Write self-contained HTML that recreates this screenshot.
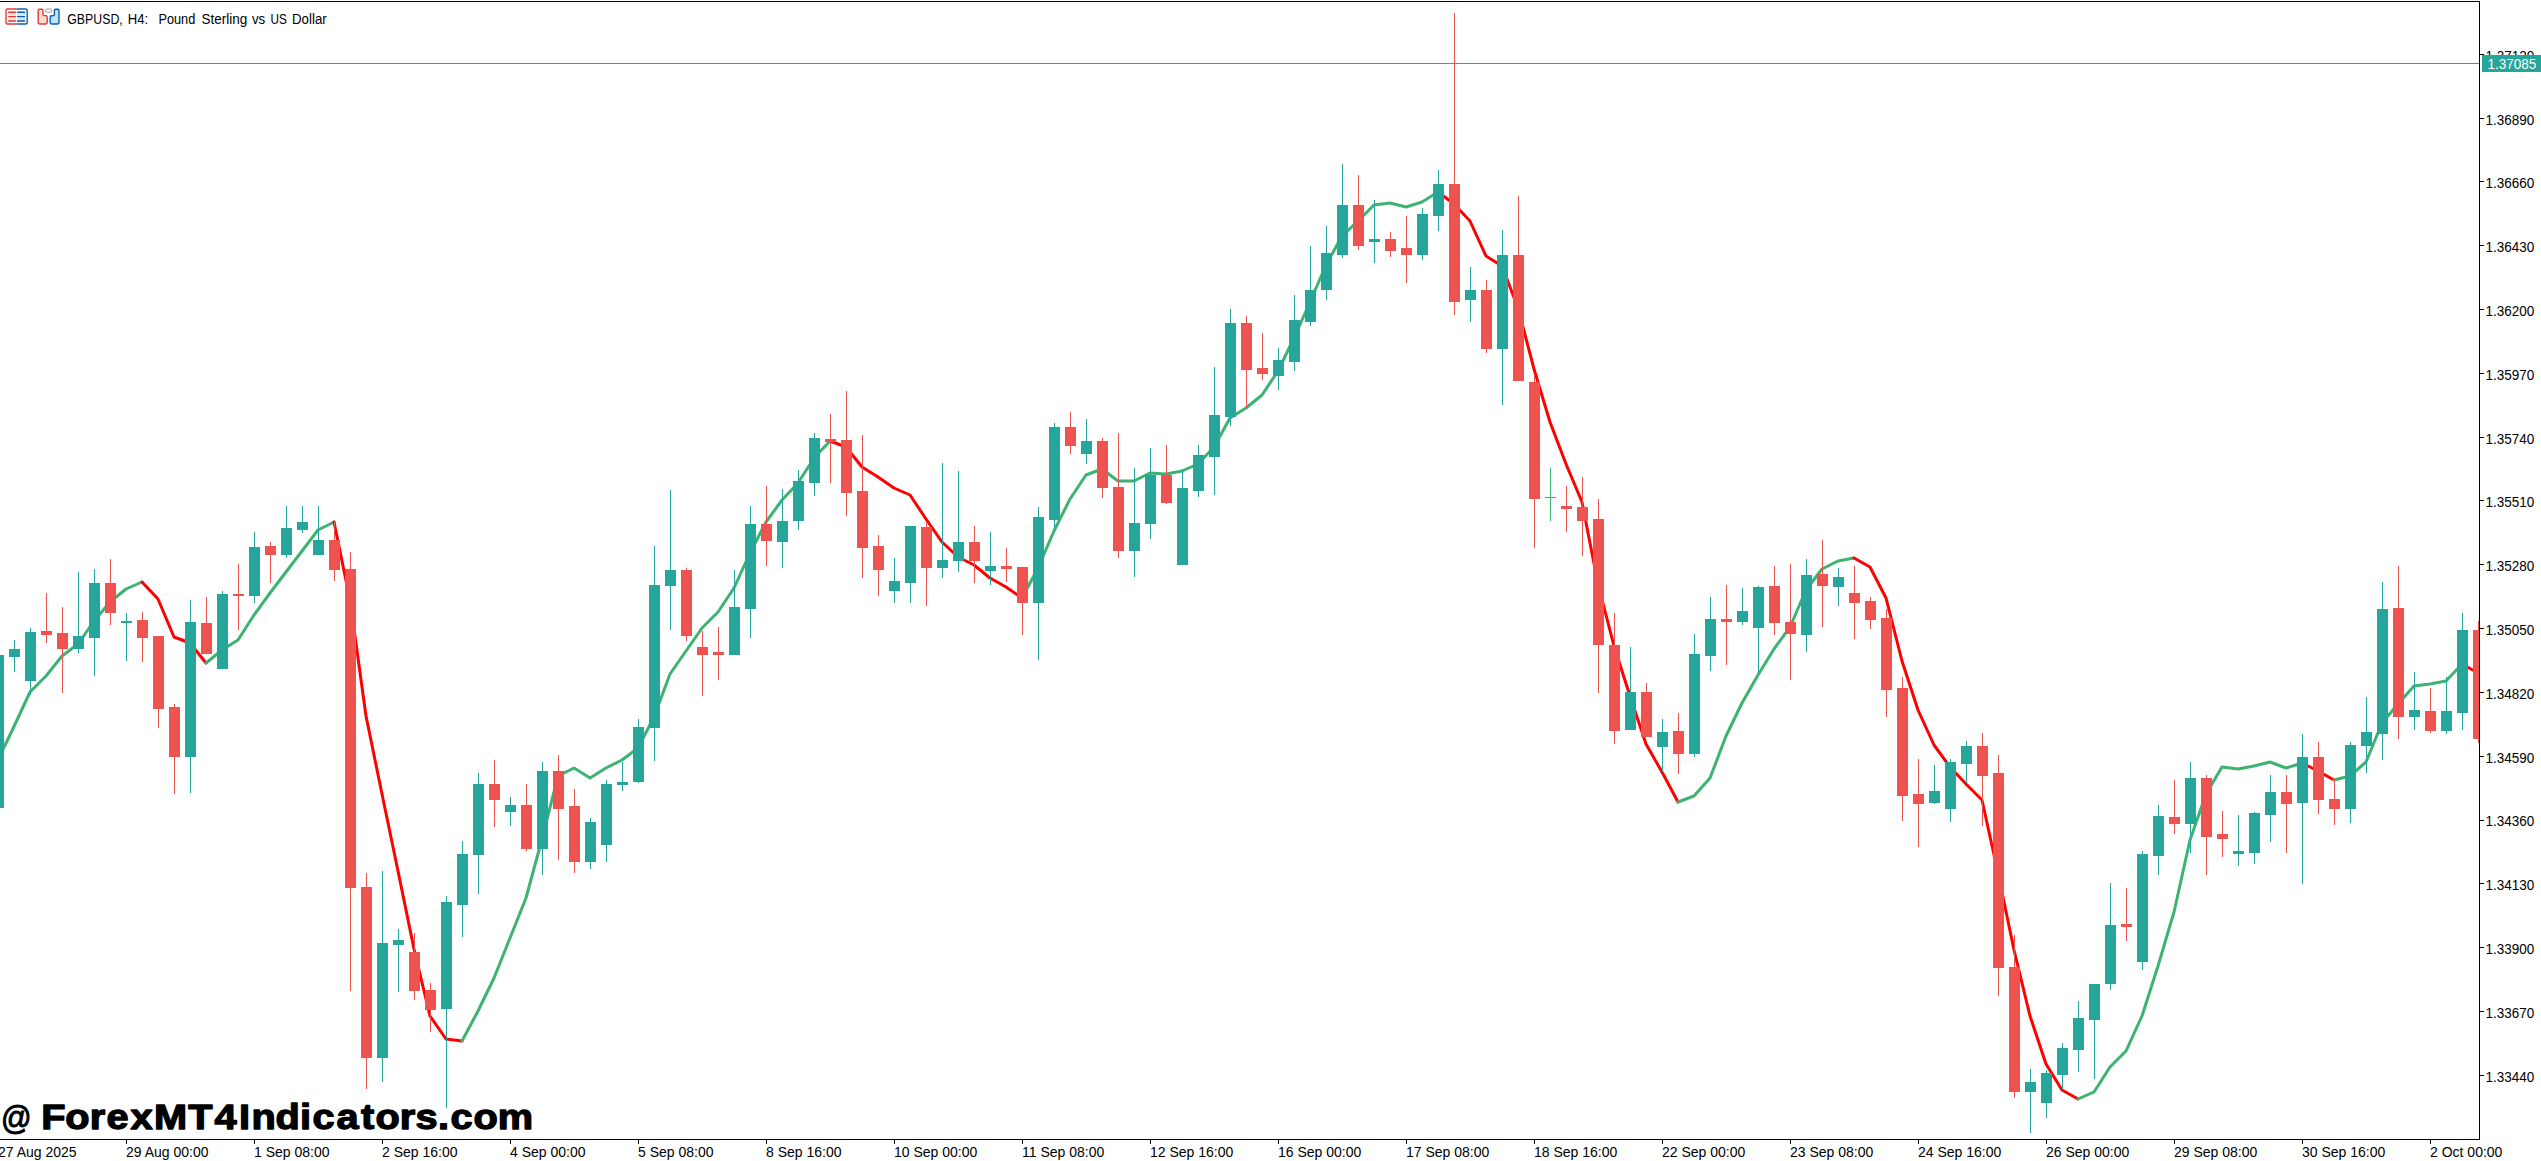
<!DOCTYPE html>
<html><head><meta charset="utf-8"><title>GBPUSD, H4</title>
<style>
html,body{margin:0;padding:0;background:#fff;}
body{width:2541px;height:1161px;overflow:hidden;position:relative;font-family:"Liberation Sans",sans-serif;}
svg{position:absolute;left:0;top:0;display:block}
text{font-family:"Liberation Sans",sans-serif;}
.ax{font-size:14px;fill:#000}
.wm{font-family:"Liberation Sans",sans-serif;font-weight:bold;font-size:35.5px;fill:#000;stroke:#000;stroke-width:1.3px;stroke-linejoin:round}
.wa{font-family:"Liberation Sans",sans-serif;font-weight:normal;font-size:33.5px;fill:#000;stroke:#000;stroke-width:1px}
</style></head><body>
<svg width="2541" height="1161" viewBox="0 0 2541 1161">
<rect width="2541" height="1161" fill="#fff"/>
<defs><clipPath id="plot"><rect x="0" y="2" width="2479" height="1137"/></clipPath></defs>

<g shape-rendering="crispEdges">
<rect x="0" y="63" width="2479" height="1" fill="#26a69a"/>
</g>
<g clip-path="url(#plot)" fill="none" stroke-width="3" stroke-linejoin="round" stroke-linecap="round">
<polyline points="-2,760 14,726.5 30,692 46,676 62,656 78,644 94,621 110,602 126,589 142,582" stroke="#3cb371"/>
<polyline points="142,582 158,599 174,637 190,643 206,663" stroke="#ff0000"/>
<polyline points="206,663 222,650 238,640 254,615 270,593 286,572 302,551 318,530 334,522" stroke="#3cb371"/>
<polyline points="334,522 350,600 366,716 382,794 398,871 414,949 430,1016 446,1039 462,1041" stroke="#ff0000"/>
<polyline points="462,1041 478,1011 494,978 510,938 526,898 542,839 558,776 574,768 590,778 606,768 622,760 638,748 654,717 670,674 686,651 702,628 718,612 734,588 750,553 766,522 782,500 798,483 814,458 830,441" stroke="#3cb371"/>
<polyline points="830,441 846,447 862,467 878,477 894,488 910,495 926,519 942,542 958,557 974,565 990,578 1006,587 1022,598" stroke="#ff0000"/>
<polyline points="1022,598 1038,568 1054,531 1070,499 1086,475 1102,469 1118,481 1134,481 1150,473 1166,474 1182,471 1198,464 1214,447 1230,418 1246,408 1262,395 1278,371 1294,338 1310,302 1326,265 1342,236 1358,221 1374,205 1390,203 1406,207 1422,202 1438,192" stroke="#3cb371"/>
<polyline points="1438,192 1454,204 1470,221 1486,256 1502,266 1518,308 1534,369 1550,422 1566,464 1582,502 1598,584 1614,646 1630,696 1646,744 1662,772 1678,802" stroke="#ff0000"/>
<polyline points="1678,802 1694,796 1710,778 1726,736 1742,703 1758,675 1774,649 1790,627 1806,590 1822,569 1838,561 1854,558" stroke="#3cb371"/>
<polyline points="1854,558 1870,567 1886,598 1902,661 1918,710 1934,745 1950,767 1966,784 1982,800 1998,873 2014,950 2030,1016 2046,1064 2062,1090 2078,1099" stroke="#ff0000"/>
<polyline points="2078,1099 2094,1092 2110,1067 2126,1051 2142,1016 2158,966 2174,912 2190,840 2206,794 2222,767 2238,769 2254,766 2270,762 2286,768 2302,763" stroke="#3cb371"/>
<polyline points="2302,763 2318,771 2334,780" stroke="#ff0000"/>
<polyline points="2334,780 2350,776 2366,762 2382,723 2398,704 2414,686 2430,684 2446,681 2462,664" stroke="#3cb371"/>
<polyline points="2462,664 2478,673" stroke="#ff0000"/>
</g>
<g clip-path="url(#plot)" shape-rendering="crispEdges">
<rect x="-2" y="655" width="1" height="153" fill="#26a69a"/>
<rect x="-7" y="655" width="11" height="153" fill="#26a69a"/>
<rect x="14" y="640" width="1" height="32" fill="#26a69a"/>
<rect x="9" y="649" width="11" height="8" fill="#26a69a"/>
<rect x="30" y="628" width="1" height="67" fill="#26a69a"/>
<rect x="25" y="632" width="11" height="49" fill="#26a69a"/>
<rect x="46" y="593" width="1" height="50" fill="#ef5350"/>
<rect x="41" y="631" width="11" height="4" fill="#ef5350"/>
<rect x="62" y="607" width="1" height="86" fill="#ef5350"/>
<rect x="57" y="633" width="11" height="16" fill="#ef5350"/>
<rect x="78" y="572" width="1" height="81" fill="#26a69a"/>
<rect x="73" y="636" width="11" height="13" fill="#26a69a"/>
<rect x="94" y="569" width="1" height="107" fill="#26a69a"/>
<rect x="89" y="583" width="11" height="55" fill="#26a69a"/>
<rect x="110" y="559" width="1" height="66" fill="#ef5350"/>
<rect x="105" y="583" width="11" height="30" fill="#ef5350"/>
<rect x="126" y="613" width="1" height="48" fill="#26a69a"/>
<rect x="121" y="621" width="11" height="2" fill="#26a69a"/>
<rect x="142" y="612" width="1" height="50" fill="#ef5350"/>
<rect x="137" y="620" width="11" height="18" fill="#ef5350"/>
<rect x="158" y="636" width="1" height="92" fill="#ef5350"/>
<rect x="153" y="636" width="11" height="73" fill="#ef5350"/>
<rect x="174" y="704" width="1" height="90" fill="#ef5350"/>
<rect x="169" y="707" width="11" height="50" fill="#ef5350"/>
<rect x="190" y="600" width="1" height="193" fill="#26a69a"/>
<rect x="185" y="622" width="11" height="135" fill="#26a69a"/>
<rect x="206" y="597" width="1" height="57" fill="#ef5350"/>
<rect x="201" y="623" width="11" height="31" fill="#ef5350"/>
<rect x="222" y="591" width="1" height="78" fill="#26a69a"/>
<rect x="217" y="594" width="11" height="75" fill="#26a69a"/>
<rect x="238" y="564" width="1" height="66" fill="#ef5350"/>
<rect x="233" y="594" width="11" height="2" fill="#ef5350"/>
<rect x="254" y="532" width="1" height="71" fill="#26a69a"/>
<rect x="249" y="547" width="11" height="49" fill="#26a69a"/>
<rect x="270" y="542" width="1" height="41" fill="#ef5350"/>
<rect x="265" y="546" width="11" height="9" fill="#ef5350"/>
<rect x="286" y="506" width="1" height="52" fill="#26a69a"/>
<rect x="281" y="528" width="11" height="27" fill="#26a69a"/>
<rect x="302" y="506" width="1" height="27" fill="#26a69a"/>
<rect x="297" y="522" width="11" height="8" fill="#26a69a"/>
<rect x="318" y="506" width="1" height="49" fill="#26a69a"/>
<rect x="313" y="540" width="11" height="15" fill="#26a69a"/>
<rect x="334" y="522" width="1" height="59" fill="#ef5350"/>
<rect x="329" y="540" width="11" height="30" fill="#ef5350"/>
<rect x="350" y="552" width="1" height="439" fill="#ef5350"/>
<rect x="345" y="569" width="11" height="319" fill="#ef5350"/>
<rect x="366" y="873" width="1" height="216" fill="#ef5350"/>
<rect x="361" y="887" width="11" height="171" fill="#ef5350"/>
<rect x="382" y="871" width="1" height="211" fill="#26a69a"/>
<rect x="377" y="943" width="11" height="115" fill="#26a69a"/>
<rect x="398" y="929" width="1" height="63" fill="#26a69a"/>
<rect x="393" y="940" width="11" height="5" fill="#26a69a"/>
<rect x="414" y="933" width="1" height="67" fill="#ef5350"/>
<rect x="409" y="952" width="11" height="39" fill="#ef5350"/>
<rect x="430" y="983" width="1" height="49" fill="#ef5350"/>
<rect x="425" y="990" width="11" height="20" fill="#ef5350"/>
<rect x="446" y="896" width="1" height="212" fill="#26a69a"/>
<rect x="441" y="902" width="11" height="107" fill="#26a69a"/>
<rect x="462" y="841" width="1" height="96" fill="#26a69a"/>
<rect x="457" y="854" width="11" height="51" fill="#26a69a"/>
<rect x="478" y="773" width="1" height="121" fill="#26a69a"/>
<rect x="473" y="784" width="11" height="71" fill="#26a69a"/>
<rect x="494" y="760" width="1" height="67" fill="#ef5350"/>
<rect x="489" y="784" width="11" height="16" fill="#ef5350"/>
<rect x="510" y="797" width="1" height="29" fill="#26a69a"/>
<rect x="505" y="805" width="11" height="7" fill="#26a69a"/>
<rect x="526" y="784" width="1" height="67" fill="#ef5350"/>
<rect x="521" y="805" width="11" height="44" fill="#ef5350"/>
<rect x="542" y="762" width="1" height="113" fill="#26a69a"/>
<rect x="537" y="771" width="11" height="78" fill="#26a69a"/>
<rect x="558" y="755" width="1" height="105" fill="#ef5350"/>
<rect x="553" y="771" width="11" height="38" fill="#ef5350"/>
<rect x="574" y="789" width="1" height="84" fill="#ef5350"/>
<rect x="569" y="806" width="11" height="56" fill="#ef5350"/>
<rect x="590" y="818" width="1" height="51" fill="#26a69a"/>
<rect x="585" y="822" width="11" height="40" fill="#26a69a"/>
<rect x="606" y="780" width="1" height="82" fill="#26a69a"/>
<rect x="601" y="784" width="11" height="61" fill="#26a69a"/>
<rect x="622" y="762" width="1" height="29" fill="#26a69a"/>
<rect x="617" y="782" width="11" height="3" fill="#26a69a"/>
<rect x="638" y="719" width="1" height="64" fill="#26a69a"/>
<rect x="633" y="727" width="11" height="55" fill="#26a69a"/>
<rect x="654" y="546" width="1" height="215" fill="#26a69a"/>
<rect x="649" y="585" width="11" height="143" fill="#26a69a"/>
<rect x="670" y="490" width="1" height="140" fill="#26a69a"/>
<rect x="665" y="570" width="11" height="16" fill="#26a69a"/>
<rect x="686" y="568" width="1" height="73" fill="#ef5350"/>
<rect x="681" y="570" width="11" height="66" fill="#ef5350"/>
<rect x="702" y="631" width="1" height="65" fill="#ef5350"/>
<rect x="697" y="647" width="11" height="8" fill="#ef5350"/>
<rect x="718" y="627" width="1" height="53" fill="#ef5350"/>
<rect x="713" y="652" width="11" height="3" fill="#ef5350"/>
<rect x="734" y="570" width="1" height="85" fill="#26a69a"/>
<rect x="729" y="607" width="11" height="48" fill="#26a69a"/>
<rect x="750" y="506" width="1" height="132" fill="#26a69a"/>
<rect x="745" y="524" width="11" height="85" fill="#26a69a"/>
<rect x="766" y="486" width="1" height="80" fill="#ef5350"/>
<rect x="761" y="524" width="11" height="17" fill="#ef5350"/>
<rect x="782" y="489" width="1" height="79" fill="#26a69a"/>
<rect x="777" y="521" width="11" height="21" fill="#26a69a"/>
<rect x="798" y="470" width="1" height="60" fill="#26a69a"/>
<rect x="793" y="481" width="11" height="40" fill="#26a69a"/>
<rect x="814" y="433" width="1" height="63" fill="#26a69a"/>
<rect x="809" y="438" width="11" height="45" fill="#26a69a"/>
<rect x="830" y="414" width="1" height="69" fill="#ef5350"/>
<rect x="825" y="439" width="11" height="3" fill="#ef5350"/>
<rect x="846" y="391" width="1" height="125" fill="#ef5350"/>
<rect x="841" y="440" width="11" height="53" fill="#ef5350"/>
<rect x="862" y="435" width="1" height="143" fill="#ef5350"/>
<rect x="857" y="491" width="11" height="57" fill="#ef5350"/>
<rect x="878" y="535" width="1" height="61" fill="#ef5350"/>
<rect x="873" y="546" width="11" height="24" fill="#ef5350"/>
<rect x="894" y="558" width="1" height="45" fill="#26a69a"/>
<rect x="889" y="581" width="11" height="10" fill="#26a69a"/>
<rect x="910" y="526" width="1" height="77" fill="#26a69a"/>
<rect x="905" y="526" width="11" height="57" fill="#26a69a"/>
<rect x="926" y="522" width="1" height="84" fill="#ef5350"/>
<rect x="921" y="527" width="11" height="41" fill="#ef5350"/>
<rect x="942" y="463" width="1" height="115" fill="#26a69a"/>
<rect x="937" y="560" width="11" height="8" fill="#26a69a"/>
<rect x="958" y="471" width="1" height="101" fill="#26a69a"/>
<rect x="953" y="542" width="11" height="19" fill="#26a69a"/>
<rect x="974" y="526" width="1" height="57" fill="#ef5350"/>
<rect x="969" y="542" width="11" height="19" fill="#ef5350"/>
<rect x="990" y="532" width="1" height="53" fill="#26a69a"/>
<rect x="985" y="566" width="11" height="5" fill="#26a69a"/>
<rect x="1006" y="548" width="1" height="34" fill="#ef5350"/>
<rect x="1001" y="566" width="11" height="3" fill="#ef5350"/>
<rect x="1022" y="567" width="1" height="68" fill="#ef5350"/>
<rect x="1017" y="567" width="11" height="36" fill="#ef5350"/>
<rect x="1038" y="507" width="1" height="153" fill="#26a69a"/>
<rect x="1033" y="517" width="11" height="86" fill="#26a69a"/>
<rect x="1054" y="423" width="1" height="107" fill="#26a69a"/>
<rect x="1049" y="427" width="11" height="93" fill="#26a69a"/>
<rect x="1070" y="412" width="1" height="42" fill="#ef5350"/>
<rect x="1065" y="427" width="11" height="19" fill="#ef5350"/>
<rect x="1086" y="419" width="1" height="45" fill="#26a69a"/>
<rect x="1081" y="441" width="11" height="13" fill="#26a69a"/>
<rect x="1102" y="438" width="1" height="60" fill="#ef5350"/>
<rect x="1097" y="441" width="11" height="47" fill="#ef5350"/>
<rect x="1118" y="433" width="1" height="125" fill="#ef5350"/>
<rect x="1113" y="487" width="11" height="64" fill="#ef5350"/>
<rect x="1134" y="468" width="1" height="109" fill="#26a69a"/>
<rect x="1129" y="523" width="11" height="28" fill="#26a69a"/>
<rect x="1150" y="448" width="1" height="91" fill="#26a69a"/>
<rect x="1145" y="475" width="11" height="49" fill="#26a69a"/>
<rect x="1166" y="445" width="1" height="59" fill="#ef5350"/>
<rect x="1161" y="475" width="11" height="28" fill="#ef5350"/>
<rect x="1182" y="469" width="1" height="96" fill="#26a69a"/>
<rect x="1177" y="488" width="11" height="77" fill="#26a69a"/>
<rect x="1198" y="445" width="1" height="52" fill="#26a69a"/>
<rect x="1193" y="455" width="11" height="36" fill="#26a69a"/>
<rect x="1214" y="367" width="1" height="128" fill="#26a69a"/>
<rect x="1209" y="415" width="11" height="42" fill="#26a69a"/>
<rect x="1230" y="309" width="1" height="117" fill="#26a69a"/>
<rect x="1225" y="323" width="11" height="94" fill="#26a69a"/>
<rect x="1246" y="316" width="1" height="92" fill="#ef5350"/>
<rect x="1241" y="323" width="11" height="47" fill="#ef5350"/>
<rect x="1262" y="333" width="1" height="47" fill="#ef5350"/>
<rect x="1257" y="368" width="11" height="6" fill="#ef5350"/>
<rect x="1278" y="348" width="1" height="42" fill="#26a69a"/>
<rect x="1273" y="360" width="11" height="16" fill="#26a69a"/>
<rect x="1294" y="295" width="1" height="76" fill="#26a69a"/>
<rect x="1289" y="320" width="11" height="42" fill="#26a69a"/>
<rect x="1310" y="246" width="1" height="80" fill="#26a69a"/>
<rect x="1305" y="290" width="11" height="32" fill="#26a69a"/>
<rect x="1326" y="226" width="1" height="74" fill="#26a69a"/>
<rect x="1321" y="253" width="11" height="37" fill="#26a69a"/>
<rect x="1342" y="164" width="1" height="94" fill="#26a69a"/>
<rect x="1337" y="205" width="11" height="50" fill="#26a69a"/>
<rect x="1358" y="175" width="1" height="75" fill="#ef5350"/>
<rect x="1353" y="205" width="11" height="41" fill="#ef5350"/>
<rect x="1374" y="200" width="1" height="63" fill="#26a69a"/>
<rect x="1369" y="239" width="11" height="3" fill="#26a69a"/>
<rect x="1390" y="232" width="1" height="25" fill="#ef5350"/>
<rect x="1385" y="239" width="11" height="12" fill="#ef5350"/>
<rect x="1406" y="216" width="1" height="67" fill="#ef5350"/>
<rect x="1401" y="248" width="11" height="7" fill="#ef5350"/>
<rect x="1422" y="208" width="1" height="52" fill="#26a69a"/>
<rect x="1417" y="214" width="11" height="41" fill="#26a69a"/>
<rect x="1438" y="170" width="1" height="61" fill="#26a69a"/>
<rect x="1433" y="184" width="11" height="32" fill="#26a69a"/>
<rect x="1454" y="13" width="1" height="302" fill="#ef5350"/>
<rect x="1449" y="184" width="11" height="118" fill="#ef5350"/>
<rect x="1470" y="267" width="1" height="55" fill="#26a69a"/>
<rect x="1465" y="290" width="11" height="10" fill="#26a69a"/>
<rect x="1486" y="280" width="1" height="73" fill="#ef5350"/>
<rect x="1481" y="290" width="11" height="59" fill="#ef5350"/>
<rect x="1502" y="230" width="1" height="175" fill="#26a69a"/>
<rect x="1497" y="255" width="11" height="94" fill="#26a69a"/>
<rect x="1518" y="196" width="1" height="185" fill="#ef5350"/>
<rect x="1513" y="255" width="11" height="126" fill="#ef5350"/>
<rect x="1534" y="376" width="1" height="172" fill="#ef5350"/>
<rect x="1529" y="382" width="11" height="117" fill="#ef5350"/>
<rect x="1550" y="468" width="1" height="53" fill="#3cb371"/>
<rect x="1545" y="497" width="11" height="1" fill="#3cb371"/>
<rect x="1566" y="486" width="1" height="46" fill="#ef5350"/>
<rect x="1561" y="506" width="11" height="3" fill="#ef5350"/>
<rect x="1582" y="477" width="1" height="79" fill="#ef5350"/>
<rect x="1577" y="507" width="11" height="14" fill="#ef5350"/>
<rect x="1598" y="499" width="1" height="194" fill="#ef5350"/>
<rect x="1593" y="519" width="11" height="126" fill="#ef5350"/>
<rect x="1614" y="613" width="1" height="131" fill="#ef5350"/>
<rect x="1609" y="645" width="11" height="86" fill="#ef5350"/>
<rect x="1630" y="647" width="1" height="83" fill="#26a69a"/>
<rect x="1625" y="692" width="11" height="38" fill="#26a69a"/>
<rect x="1646" y="683" width="1" height="54" fill="#ef5350"/>
<rect x="1641" y="692" width="11" height="45" fill="#ef5350"/>
<rect x="1662" y="719" width="1" height="53" fill="#26a69a"/>
<rect x="1657" y="732" width="11" height="15" fill="#26a69a"/>
<rect x="1678" y="713" width="1" height="61" fill="#ef5350"/>
<rect x="1673" y="731" width="11" height="23" fill="#ef5350"/>
<rect x="1694" y="634" width="1" height="123" fill="#26a69a"/>
<rect x="1689" y="654" width="11" height="100" fill="#26a69a"/>
<rect x="1710" y="597" width="1" height="74" fill="#26a69a"/>
<rect x="1705" y="619" width="11" height="37" fill="#26a69a"/>
<rect x="1726" y="585" width="1" height="80" fill="#ef5350"/>
<rect x="1721" y="619" width="11" height="3" fill="#ef5350"/>
<rect x="1742" y="588" width="1" height="37" fill="#26a69a"/>
<rect x="1737" y="611" width="11" height="11" fill="#26a69a"/>
<rect x="1758" y="586" width="1" height="88" fill="#26a69a"/>
<rect x="1753" y="587" width="11" height="41" fill="#26a69a"/>
<rect x="1774" y="566" width="1" height="69" fill="#ef5350"/>
<rect x="1769" y="586" width="11" height="37" fill="#ef5350"/>
<rect x="1790" y="564" width="1" height="116" fill="#ef5350"/>
<rect x="1785" y="622" width="11" height="12" fill="#ef5350"/>
<rect x="1806" y="559" width="1" height="93" fill="#26a69a"/>
<rect x="1801" y="575" width="11" height="60" fill="#26a69a"/>
<rect x="1822" y="540" width="1" height="87" fill="#ef5350"/>
<rect x="1817" y="574" width="11" height="12" fill="#ef5350"/>
<rect x="1838" y="568" width="1" height="38" fill="#26a69a"/>
<rect x="1833" y="577" width="11" height="10" fill="#26a69a"/>
<rect x="1854" y="566" width="1" height="73" fill="#ef5350"/>
<rect x="1849" y="593" width="11" height="10" fill="#ef5350"/>
<rect x="1870" y="597" width="1" height="32" fill="#ef5350"/>
<rect x="1865" y="601" width="11" height="19" fill="#ef5350"/>
<rect x="1886" y="609" width="1" height="108" fill="#ef5350"/>
<rect x="1881" y="618" width="11" height="72" fill="#ef5350"/>
<rect x="1902" y="677" width="1" height="144" fill="#ef5350"/>
<rect x="1897" y="688" width="11" height="108" fill="#ef5350"/>
<rect x="1918" y="759" width="1" height="88" fill="#ef5350"/>
<rect x="1913" y="794" width="11" height="10" fill="#ef5350"/>
<rect x="1934" y="765" width="1" height="39" fill="#26a69a"/>
<rect x="1929" y="791" width="11" height="12" fill="#26a69a"/>
<rect x="1950" y="759" width="1" height="63" fill="#26a69a"/>
<rect x="1945" y="762" width="11" height="47" fill="#26a69a"/>
<rect x="1966" y="741" width="1" height="42" fill="#26a69a"/>
<rect x="1961" y="746" width="11" height="18" fill="#26a69a"/>
<rect x="1982" y="733" width="1" height="93" fill="#ef5350"/>
<rect x="1977" y="746" width="11" height="30" fill="#ef5350"/>
<rect x="1998" y="755" width="1" height="241" fill="#ef5350"/>
<rect x="1993" y="773" width="11" height="195" fill="#ef5350"/>
<rect x="2014" y="935" width="1" height="163" fill="#ef5350"/>
<rect x="2009" y="967" width="11" height="125" fill="#ef5350"/>
<rect x="2030" y="1069" width="1" height="64" fill="#26a69a"/>
<rect x="2025" y="1082" width="11" height="10" fill="#26a69a"/>
<rect x="2046" y="1070" width="1" height="48" fill="#26a69a"/>
<rect x="2041" y="1073" width="11" height="30" fill="#26a69a"/>
<rect x="2062" y="1043" width="1" height="46" fill="#26a69a"/>
<rect x="2057" y="1048" width="11" height="27" fill="#26a69a"/>
<rect x="2078" y="1001" width="1" height="71" fill="#26a69a"/>
<rect x="2073" y="1018" width="11" height="32" fill="#26a69a"/>
<rect x="2094" y="984" width="1" height="95" fill="#26a69a"/>
<rect x="2089" y="984" width="11" height="36" fill="#26a69a"/>
<rect x="2110" y="883" width="1" height="107" fill="#26a69a"/>
<rect x="2105" y="925" width="11" height="59" fill="#26a69a"/>
<rect x="2126" y="888" width="1" height="53" fill="#ef5350"/>
<rect x="2121" y="924" width="11" height="3" fill="#ef5350"/>
<rect x="2142" y="851" width="1" height="119" fill="#26a69a"/>
<rect x="2137" y="854" width="11" height="108" fill="#26a69a"/>
<rect x="2158" y="805" width="1" height="70" fill="#26a69a"/>
<rect x="2153" y="816" width="11" height="40" fill="#26a69a"/>
<rect x="2174" y="780" width="1" height="54" fill="#ef5350"/>
<rect x="2169" y="817" width="11" height="7" fill="#ef5350"/>
<rect x="2190" y="762" width="1" height="91" fill="#26a69a"/>
<rect x="2185" y="778" width="11" height="46" fill="#26a69a"/>
<rect x="2206" y="775" width="1" height="100" fill="#ef5350"/>
<rect x="2201" y="778" width="11" height="59" fill="#ef5350"/>
<rect x="2222" y="811" width="1" height="46" fill="#ef5350"/>
<rect x="2217" y="834" width="11" height="5" fill="#ef5350"/>
<rect x="2238" y="815" width="1" height="51" fill="#26a69a"/>
<rect x="2233" y="851" width="11" height="3" fill="#26a69a"/>
<rect x="2254" y="812" width="1" height="52" fill="#26a69a"/>
<rect x="2249" y="813" width="11" height="40" fill="#26a69a"/>
<rect x="2270" y="775" width="1" height="67" fill="#26a69a"/>
<rect x="2265" y="792" width="11" height="23" fill="#26a69a"/>
<rect x="2286" y="775" width="1" height="78" fill="#ef5350"/>
<rect x="2281" y="792" width="11" height="12" fill="#ef5350"/>
<rect x="2302" y="734" width="1" height="150" fill="#26a69a"/>
<rect x="2297" y="757" width="11" height="46" fill="#26a69a"/>
<rect x="2318" y="742" width="1" height="72" fill="#ef5350"/>
<rect x="2313" y="757" width="11" height="43" fill="#ef5350"/>
<rect x="2334" y="779" width="1" height="46" fill="#ef5350"/>
<rect x="2329" y="799" width="11" height="10" fill="#ef5350"/>
<rect x="2350" y="742" width="1" height="81" fill="#26a69a"/>
<rect x="2345" y="745" width="11" height="64" fill="#26a69a"/>
<rect x="2366" y="697" width="1" height="76" fill="#26a69a"/>
<rect x="2361" y="732" width="11" height="14" fill="#26a69a"/>
<rect x="2382" y="582" width="1" height="178" fill="#26a69a"/>
<rect x="2377" y="609" width="11" height="125" fill="#26a69a"/>
<rect x="2398" y="566" width="1" height="173" fill="#ef5350"/>
<rect x="2393" y="608" width="11" height="109" fill="#ef5350"/>
<rect x="2414" y="672" width="1" height="58" fill="#26a69a"/>
<rect x="2409" y="710" width="11" height="7" fill="#26a69a"/>
<rect x="2430" y="688" width="1" height="45" fill="#ef5350"/>
<rect x="2425" y="711" width="11" height="20" fill="#ef5350"/>
<rect x="2446" y="677" width="1" height="57" fill="#26a69a"/>
<rect x="2441" y="711" width="11" height="20" fill="#26a69a"/>
<rect x="2462" y="613" width="1" height="117" fill="#26a69a"/>
<rect x="2457" y="630" width="11" height="83" fill="#26a69a"/>
<rect x="2478" y="621" width="1" height="122" fill="#ef5350"/>
<rect x="2473" y="630" width="11" height="109" fill="#ef5350"/>
</g>
<g shape-rendering="crispEdges" fill="#000">
<rect x="0" y="1" width="2480" height="1"/>
<rect x="2479" y="1" width="1" height="1139"/>
<rect x="0" y="1139" width="2480" height="1"/>
<rect x="2480" y="54" width="4" height="1"/>
<rect x="2480" y="118" width="4" height="1"/>
<rect x="2480" y="181" width="4" height="1"/>
<rect x="2480" y="245" width="4" height="1"/>
<rect x="2480" y="309" width="4" height="1"/>
<rect x="2480" y="373" width="4" height="1"/>
<rect x="2480" y="437" width="4" height="1"/>
<rect x="2480" y="500" width="4" height="1"/>
<rect x="2480" y="564" width="4" height="1"/>
<rect x="2480" y="628" width="4" height="1"/>
<rect x="2480" y="692" width="4" height="1"/>
<rect x="2480" y="756" width="4" height="1"/>
<rect x="2480" y="820" width="4" height="1"/>
<rect x="2480" y="883" width="4" height="1"/>
<rect x="2480" y="947" width="4" height="1"/>
<rect x="2480" y="1011" width="4" height="1"/>
<rect x="2480" y="1075" width="4" height="1"/>
<rect x="126" y="1139" width="1" height="5"/>
<rect x="254" y="1139" width="1" height="5"/>
<rect x="382" y="1139" width="1" height="5"/>
<rect x="510" y="1139" width="1" height="5"/>
<rect x="638" y="1139" width="1" height="5"/>
<rect x="766" y="1139" width="1" height="5"/>
<rect x="894" y="1139" width="1" height="5"/>
<rect x="1022" y="1139" width="1" height="5"/>
<rect x="1150" y="1139" width="1" height="5"/>
<rect x="1278" y="1139" width="1" height="5"/>
<rect x="1406" y="1139" width="1" height="5"/>
<rect x="1534" y="1139" width="1" height="5"/>
<rect x="1662" y="1139" width="1" height="5"/>
<rect x="1790" y="1139" width="1" height="5"/>
<rect x="1918" y="1139" width="1" height="5"/>
<rect x="2046" y="1139" width="1" height="5"/>
<rect x="2174" y="1139" width="1" height="5"/>
<rect x="2302" y="1139" width="1" height="5"/>
<rect x="2430" y="1139" width="1" height="5"/>
</g>
<text class="ax" x="2485.4" y="60.7" textLength="48.8" lengthAdjust="spacingAndGlyphs">1.37120</text>
<text class="ax" x="2485.4" y="124.5" textLength="48.8" lengthAdjust="spacingAndGlyphs">1.36890</text>
<text class="ax" x="2485.4" y="188.3" textLength="48.8" lengthAdjust="spacingAndGlyphs">1.36660</text>
<text class="ax" x="2485.4" y="252.1" textLength="48.8" lengthAdjust="spacingAndGlyphs">1.36430</text>
<text class="ax" x="2485.4" y="315.9" textLength="48.8" lengthAdjust="spacingAndGlyphs">1.36200</text>
<text class="ax" x="2485.4" y="379.8" textLength="48.8" lengthAdjust="spacingAndGlyphs">1.35970</text>
<text class="ax" x="2485.4" y="443.6" textLength="48.8" lengthAdjust="spacingAndGlyphs">1.35740</text>
<text class="ax" x="2485.4" y="507.4" textLength="48.8" lengthAdjust="spacingAndGlyphs">1.35510</text>
<text class="ax" x="2485.4" y="571.2" textLength="48.8" lengthAdjust="spacingAndGlyphs">1.35280</text>
<text class="ax" x="2485.4" y="635.0" textLength="48.8" lengthAdjust="spacingAndGlyphs">1.35050</text>
<text class="ax" x="2485.4" y="698.8" textLength="48.8" lengthAdjust="spacingAndGlyphs">1.34820</text>
<text class="ax" x="2485.4" y="762.6" textLength="48.8" lengthAdjust="spacingAndGlyphs">1.34590</text>
<text class="ax" x="2485.4" y="826.4" textLength="48.8" lengthAdjust="spacingAndGlyphs">1.34360</text>
<text class="ax" x="2485.4" y="890.2" textLength="48.8" lengthAdjust="spacingAndGlyphs">1.34130</text>
<text class="ax" x="2485.4" y="954.0" textLength="48.8" lengthAdjust="spacingAndGlyphs">1.33900</text>
<text class="ax" x="2485.4" y="1017.9" textLength="48.8" lengthAdjust="spacingAndGlyphs">1.33670</text>
<text class="ax" x="2485.4" y="1081.7" textLength="48.8" lengthAdjust="spacingAndGlyphs">1.33440</text>
<text class="ax" x="-2" y="1157">27 Aug 2025</text>
<text class="ax" x="126" y="1157">29 Aug 00:00</text>
<text class="ax" x="254" y="1157">1 Sep 08:00</text>
<text class="ax" x="382" y="1157">2 Sep 16:00</text>
<text class="ax" x="510" y="1157">4 Sep 00:00</text>
<text class="ax" x="638" y="1157">5 Sep 08:00</text>
<text class="ax" x="766" y="1157">8 Sep 16:00</text>
<text class="ax" x="894" y="1157">10 Sep 00:00</text>
<text class="ax" x="1022" y="1157">11 Sep 08:00</text>
<text class="ax" x="1150" y="1157">12 Sep 16:00</text>
<text class="ax" x="1278" y="1157">16 Sep 00:00</text>
<text class="ax" x="1406" y="1157">17 Sep 08:00</text>
<text class="ax" x="1534" y="1157">18 Sep 16:00</text>
<text class="ax" x="1662" y="1157">22 Sep 00:00</text>
<text class="ax" x="1790" y="1157">23 Sep 08:00</text>
<text class="ax" x="1918" y="1157">24 Sep 16:00</text>
<text class="ax" x="2046" y="1157">26 Sep 00:00</text>
<text class="ax" x="2174" y="1157">29 Sep 08:00</text>
<text class="ax" x="2302" y="1157">30 Sep 16:00</text>
<text class="ax" x="2430" y="1157">2 Oct 00:00</text>
<rect x="2482" y="55" width="59" height="17" fill="#26a69a" shape-rendering="crispEdges"/>
<text class="ax" x="2487.5" y="69" style="fill:#fff" textLength="48.8" lengthAdjust="spacingAndGlyphs">1.37085</text>
<text class="ax" y="23.8"><tspan x="67.2" textLength="55.6" lengthAdjust="spacingAndGlyphs">GBPUSD,</tspan> <tspan x="127.8" textLength="20.4" lengthAdjust="spacingAndGlyphs">H4:</tspan> <tspan x="158.4" textLength="36.9" lengthAdjust="spacingAndGlyphs">Pound</tspan> <tspan x="201.4" textLength="45.9" lengthAdjust="spacingAndGlyphs">Sterling</tspan> <tspan x="252" textLength="13.2" lengthAdjust="spacingAndGlyphs">vs</tspan> <tspan x="270.5" textLength="16.3" lengthAdjust="spacingAndGlyphs">US</tspan> <tspan x="292" textLength="34.7" lengthAdjust="spacingAndGlyphs">Dollar</tspan></text>
<g fill="none" stroke-width="1.4">
<path d="M16.5,9 H7.5 Q6,9 6,10.5 V22.5 Q6,24 7.5,24 H16.5" stroke="#e53935" fill="#fff"/>
<path d="M16.5,9 H25.7 Q27.2,9 27.2,10.5 V22.5 Q27.2,24 25.7,24 H16.5" stroke="#0d5fae" fill="#fff"/>
<rect x="8.5" y="11.6" width="7.2" height="10" fill="#fde0dc" stroke="none"/>
<rect x="17.3" y="11.6" width="7.5" height="10" fill="#cfe8fc" stroke="none"/>
<path d="M8.7,12.3 H15.5 M8.7,16.6 H15.5 M8.7,21 H15.5" stroke="#e53935" stroke-linecap="round"/>
<path d="M17.5,12.3 H24.6 M17.5,16.6 H24.6 M17.5,21 H24.6" stroke="#0d5fae" stroke-linecap="round"/>
<path d="M39.6,9.2 H41.6 Q43,9.2 43,10.6 V14.4 Q43,15.6 44.4,15.6 H45.8 Q47.2,15.6 47.2,17 V22.6 Q47.2,24 45.8,24 H39.6 Q38.2,24 38.2,22.6 V10.6 Q38.2,9.2 39.6,9.2 Z" stroke="#e53935" fill="#fddcd3"/>
<path d="M57.6,9.2 H55.8 Q54.4,9.2 54.4,10.6 V14.4 Q54.4,15.8 53,15.8 H51.6 Q50.2,15.8 50.2,17.2 V22.6 Q50.2,24 51.6,24 H57.6 Q59,24 59,22.6 V10.6 Q59,9.2 57.6,9.2 Z" stroke="#0d5fae" fill="#bfe3fb"/>
<rect x="45.6" y="9" width="6.2" height="3.2" rx="1.2" stroke="#9e9e9e" stroke-width="1" fill="#fff"/>
</g>
<text class="wa" transform="translate(1.0,1128.9) scale(0.9,1)" x="0" y="0">@</text>
<text class="wm" transform="translate(0,1128.9) scale(1.12,1)" x="36.93 58.37 80.16 95.05 116.49 137.47 168.18 191.48 213.39 224.45 245.89 267.87 279.01 300.45 322.26 335.18 356.98 370.97 391.07 402.21 422.67 444.53" y="0">ForexMT4Indicators.com</text>
</svg></body></html>
